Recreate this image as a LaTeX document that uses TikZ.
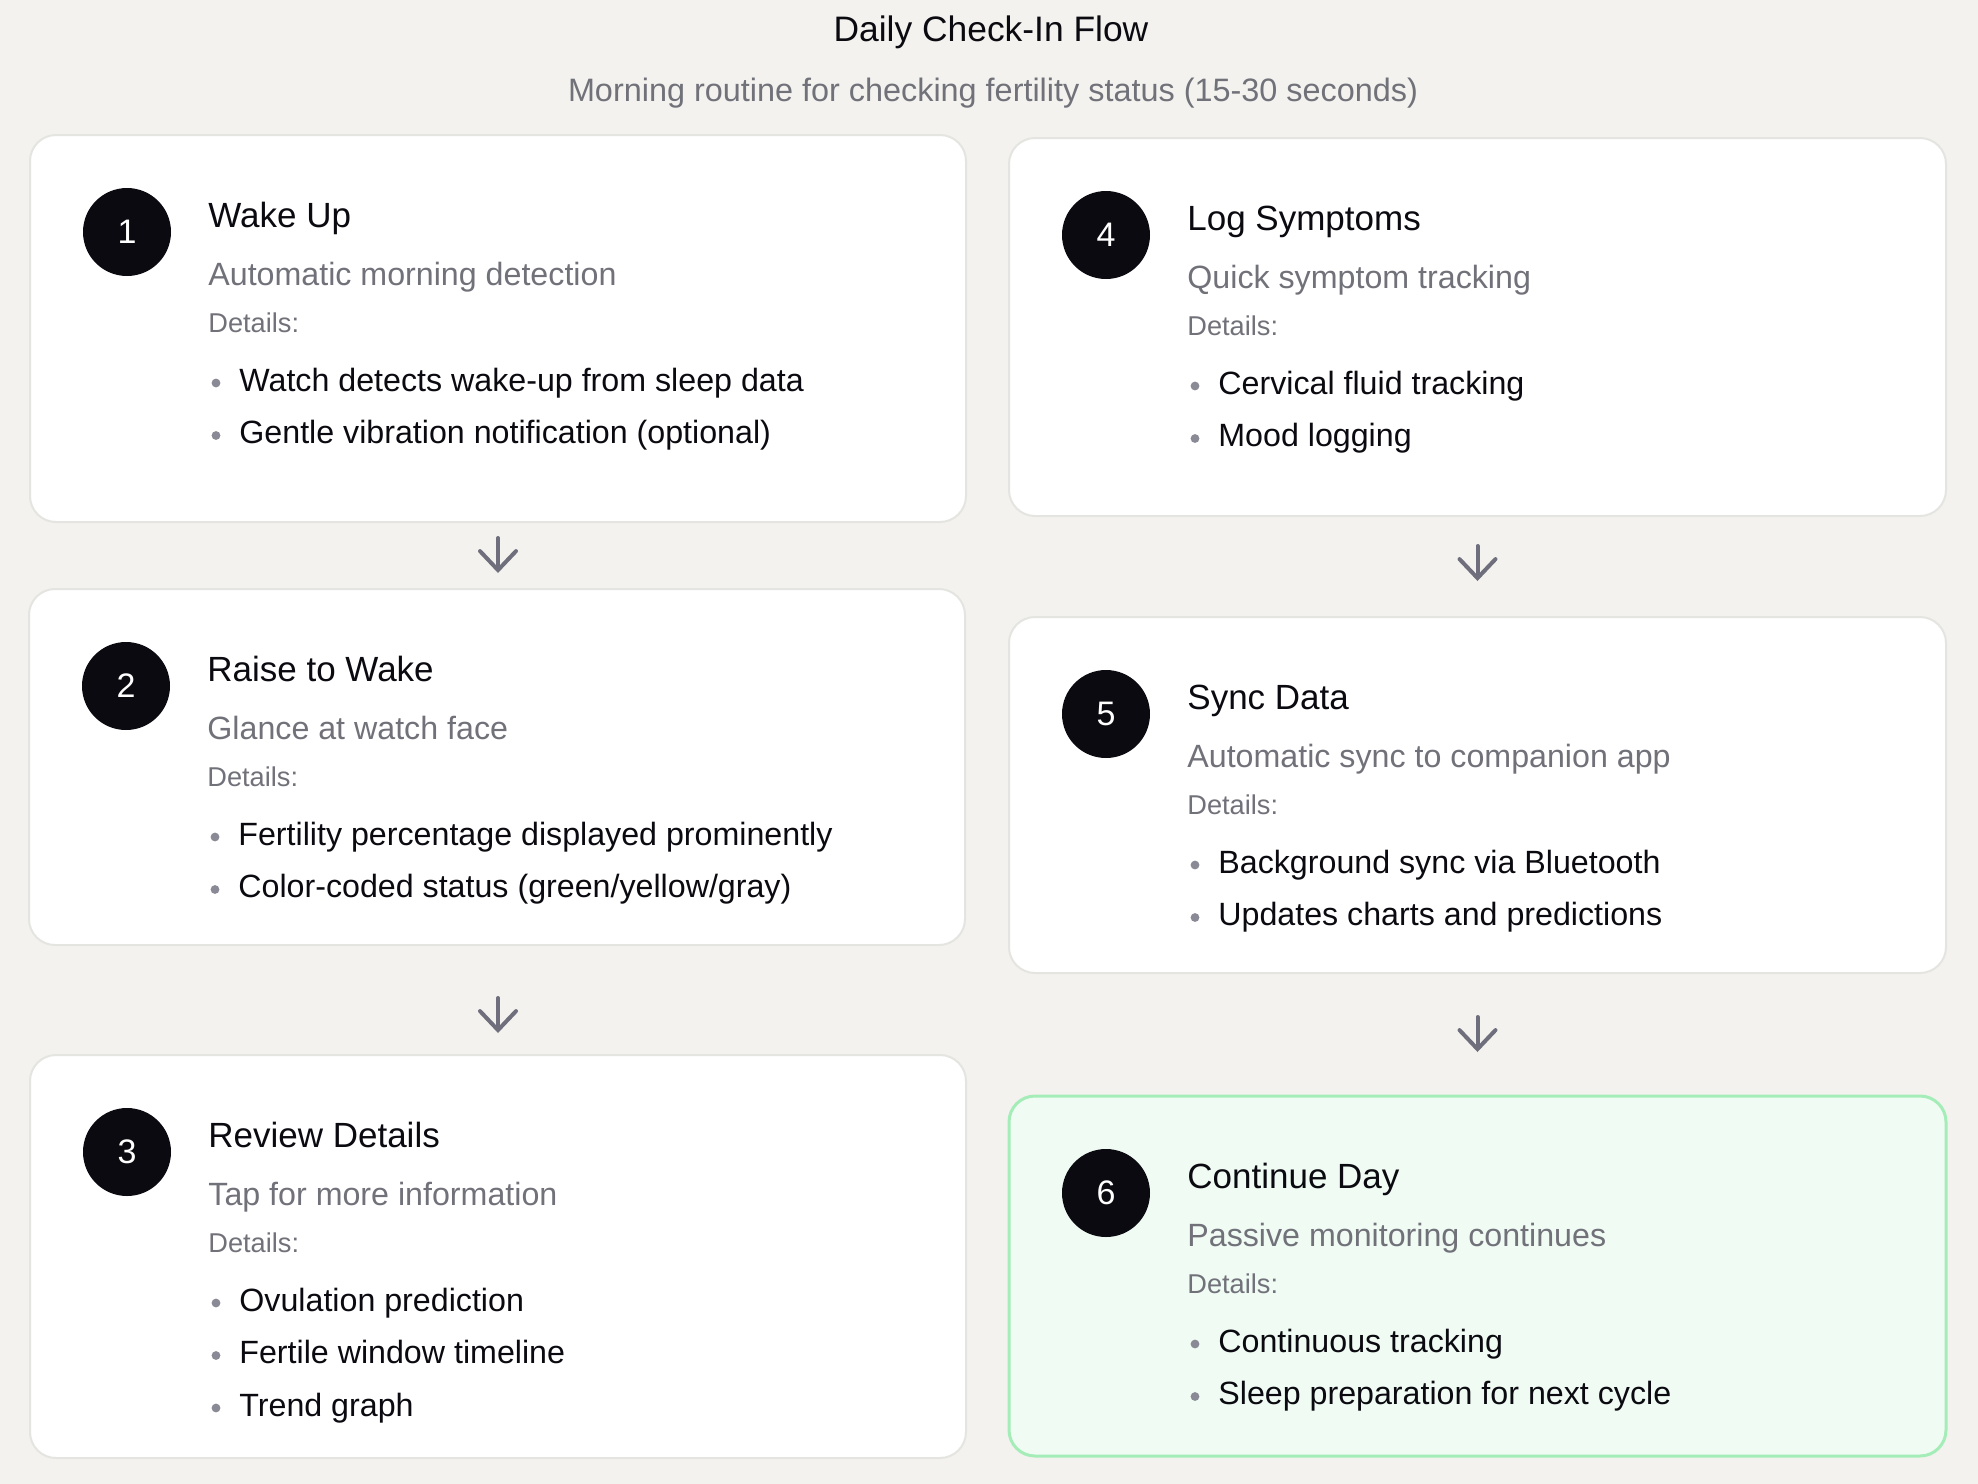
\documentclass[tikz,border=0pt]{standalone}
\usepackage{fontspec}
\setmainfont{Liberation Sans}
\usetikzlibrary{arrows.meta}

\definecolor{pagebg}{HTML}{F3F2EE}
\definecolor{cardline}{HTML}{E4E4E0}
\definecolor{ink}{HTML}{0A0A10}
\definecolor{muted}{HTML}{71717A}
\definecolor{dotgray}{HTML}{8A8A96}
\definecolor{arrowgray}{HTML}{6E6E7C}
\definecolor{donefill}{HTML}{F0FBF3}
\definecolor{doneline}{HTML}{A4EDB8}

% one step card: name, number, title, subtitle, bullet list
\newcommand{\stepcard}[5]{%
  \node[numdot] (#1num) at (97,97) {#2};
  \node[steptitle] (#1title) at (178,92) {#3};
  \node[stepsub] (#1sub) at (178,150) {#4};
  \node[detlabel] (#1det) at (178,197) {Details:};
  \foreach \txt [count=\k] in {#5} {
    \fill[dotgray] (186,{248+52.5*(\k-1)}) circle (2.2pt);
    \node[bullettxt] (#1b\k) at (209,{256+52.5*(\k-1)}) {\txt};
  }%
}

\begin{document}
\begin{tikzpicture}[x=0.5pt, y=-0.5pt]
    \tikzstyle{card}=[draw=cardline, line width=1pt, fill=white, rounded corners=13pt, anchor=north west, inner sep=0pt, outer sep=0pt]
    \tikzstyle{donecard}=[card, draw=doneline, line width=1.5pt, fill=donefill]
    \tikzstyle{numdot}=[circle, fill=ink, text=white, minimum size=44pt, inner sep=0pt, font=\fontsize{17}{20}\selectfont]
    \tikzstyle{steptitle}=[anchor=base west, inner sep=0pt, text=ink, font=\fontsize{17.5}{21}\selectfont]
    \tikzstyle{stepsub}=[anchor=base west, inner sep=0pt, text=muted, font=\fontsize{16.1}{19}\selectfont]
    \tikzstyle{detlabel}=[anchor=base west, inner sep=0pt, text=muted, font=\fontsize{13.6}{16}\selectfont]
    \tikzstyle{bullettxt}=[anchor=base west, inner sep=0pt, text=ink, font=\fontsize{16.1}{19}\selectfont]
    \tikzstyle{flow}=[draw=arrowgray, line width=2pt, line cap=round, -{Straight Barb[length=9.5pt, width=18pt, line cap=round]}]

    \fill[pagebg] (0,0) rectangle (1978,1484);
    \useasboundingbox (0,0) rectangle (1978,1484);

    \node[anchor=base, inner sep=0pt, text=ink, font=\fontsize{17.7}{21}\selectfont] (head) at (991,41) {Daily Check-In Flow};
    \node[anchor=base, inner sep=0pt, text=muted, font=\fontsize{16.2}{19}\selectfont] (headsub) at (993,101) {Morning routine for checking fertility status (15-30 seconds)};

    % left column
    \node[card, minimum width=468pt, minimum height=193.5pt] (c1) at (30,135) {};
    \node[card, minimum width=468pt, minimum height=178pt] (c2) at (29,589) {};
    \node[card, minimum width=468pt, minimum height=201.5pt] (c3) at (30,1055) {};
    % right column
    \node[card, minimum width=468.5pt, minimum height=189pt] (c4) at (1009,138) {};
    \node[card, minimum width=468.5pt, minimum height=178pt] (c5) at (1009,617) {};
    \node[donecard, minimum width=468.5pt, minimum height=180pt] (c6) at (1009,1096) {};

    \begin{scope}[shift={(c1.north west)}]
        \stepcard{c1}{1}{Wake Up}{Automatic morning detection}{Watch detects wake-up from sleep data, Gentle vibration notification (optional)}
    \end{scope}
    \begin{scope}[shift={(c2.north west)}]
        \stepcard{c2}{2}{Raise to Wake}{Glance at watch face}{Fertility percentage displayed prominently, Color-coded status (green/yellow/gray)}
    \end{scope}
    \begin{scope}[shift={(c3.north west)}]
        \stepcard{c3}{3}{Review Details}{Tap for more information}{Ovulation prediction, Fertile window timeline, Trend graph}
    \end{scope}
    \begin{scope}[shift={(c4.north west)}]
        \stepcard{c4}{4}{Log Symptoms}{Quick symptom tracking}{Cervical fluid tracking, Mood logging}
    \end{scope}
    \begin{scope}[shift={(c5.north west)}]
        \stepcard{c5}{5}{Sync Data}{Automatic sync to companion app}{Background sync via Bluetooth, Updates charts and predictions}
    \end{scope}
    \begin{scope}[shift={(c6.north west)}]
        \stepcard{c6}{6}{Continue Day}{Passive monitoring continues}{Continuous tracking, Sleep preparation for next cycle}
    \end{scope}

    \draw[flow, shorten <=8pt, shorten >=8pt] (c1.south) -- (c1.south |- c2.north);
    \draw[flow, shorten <=26.5pt, shorten >=11pt] (c1.south |- c2.south) -- (c1.south |- c3.north);
    \draw[flow, shorten <=15pt, shorten >=18pt] (c4.south) -- (c5.north);
    \draw[flow, shorten <=22pt, shorten >=22pt] (c5.south) -- (c6.north);
\end{tikzpicture}
\end{document}
